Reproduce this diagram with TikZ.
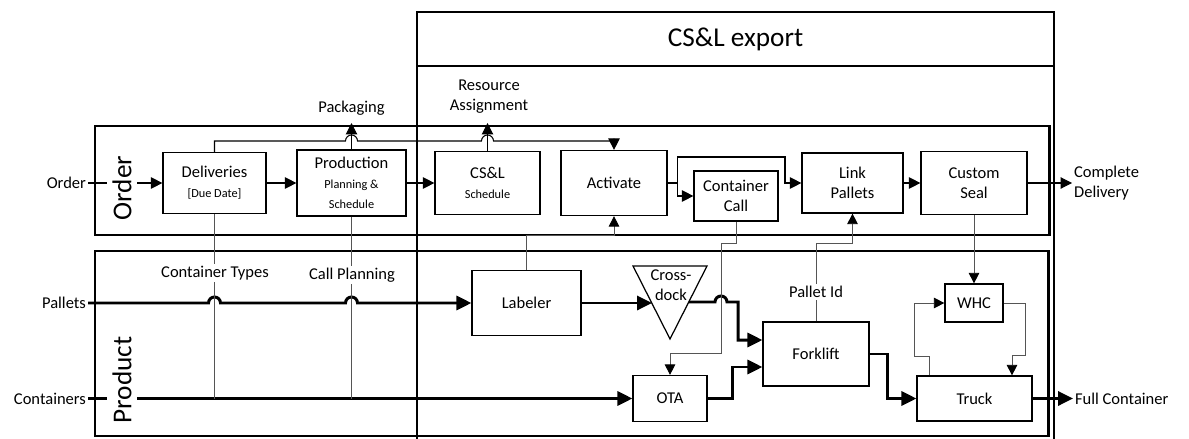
\documentclass[tikz,border=0pt]{standalone}
\usepackage{fontspec}
\setmainfont{Carlito}
\usepackage{tikz}
\usetikzlibrary{arrows.meta,calc}
\definecolor{vsgris}{RGB}{85,85,85}
\newcommand{\smalltxt}{\fontsize{7}{9}\selectfont}

\begin{document}
\begin{tikzpicture}[x=0.02cm, y=-0.02cm,
  box/.style={rectangle, draw, line width=0.7pt, align=center, inner sep=1pt,
    font=\fontsize{9.4}{11.3}\selectfont},
  lbl/.style={align=center, inner sep=1pt, font=\fontsize{9.4}{11.3}\selectfont},
  lane/.style={line width=1.7pt},
  lanelbl/.style={rotate=90, fill=white, inner sep=3pt, font=\fontsize{15.5}{18}\selectfont},
  flow/.style={line width=1.7pt, -{Triangle[length=8.5pt,width=8pt]}},
  link/.style={line width=0.6pt, -{Triangle[length=6.5pt,width=6.5pt]}},
  sig/.style={vsgris, line width=0.5pt, -{Triangle[length=6pt,width=6pt,color=black]}}
]
  \useasboundingbox (0,0) rectangle (1189,439);

  % CS&L export frame
  \draw[line width=0.8pt] (417,439) |- (1054,12) -- (1054,439);
  \draw[line width=0.8pt] (417,66) -- (1054,66);
  \node[font=\fontsize{15.5}{18}\selectfont] (export) at (735.5,39) {CS\&L export};

  % lanes
  \draw[lane] (95,126) rectangle (1049,235);
  \draw[lane] (95,251) rectangle (1048,436);

  % Order lane
  \node[box, minimum width=2.06cm, minimum height=1.22cm] (del)  at (214.5,183) {Deliveries\\{\smalltxt [Due Date]}};
  \node[box, minimum width=2.18cm, minimum height=1.32cm] (prod) at (351.5,183) {Production\\{\smalltxt Planning \&}\\{\smalltxt Schedule}};
  \node[box, minimum width=2.1cm,  minimum height=1.26cm] (csl)  at (487.5,183) {CS\&L\\{\smalltxt Schedule}};
  \node[box, minimum width=2.12cm, minimum height=1.3cm]  (act)  at (614,183)   {Activate};
  \node[box, minimum width=1.68cm, minimum height=1.0cm]  (cc)   at (736,196)   {Container\\Call};
  \node[box, minimum width=2.02cm, minimum height=1.2cm]  (lp)   at (852.5,183) {Link\\Pallets};
  \node[box, minimum width=2.12cm, minimum height=1.26cm] (cs)   at (974,183)   {Custom\\Seal};

  % Product lane
  \node[box, minimum width=2.18cm, minimum height=1.3cm]  (lab)   at (526.5,303) {Labeler};
  \draw[line width=0.7pt] (633,266) -- (707,266) -- (670,339) -- cycle;
  \node[lbl] (xd) at (671,285) {Cross-\\dock};
  \coordinate (xdin)  at (652,303);
  \coordinate (xdout) at (689,302);
  \node[box, minimum width=1.48cm, minimum height=0.92cm] (ota)   at (670,398.5) {OTA};
  \node[box, minimum width=2.12cm, minimum height=1.28cm] (fork)  at (816,354)   {Forklift};
  \node[box, minimum width=1.16cm, minimum height=0.76cm] (whc)   at (974,303)   {WHC};
  \node[box, minimum width=2.3cm,  minimum height=0.9cm]  (truck) at (974.5,398.5) {Truck};

  % outside labels
  \node[lbl, anchor=east] (order) at (88,183) {Order};
  \node[lbl, anchor=east] (pal)   at (88,303) {Pallets};
  \node[lbl, anchor=east] (cont)  at (88,398.5) {Containers};
  \node[lbl, anchor=west, align=left] (cd) at (1072,183) {Complete\\Delivery};
  \node[lbl, anchor=west] (fc)    at (1073,398.5) {Full Container};
  \node[lbl] (pack) at (351.5,108) {Packaging};
  \node[lbl] (res)  at (489,97)    {Resource\\Assignment};
  \coordinate (packtip) at (351.5,123);
  \coordinate (restip)  at (487.5,123);

  % order flow
  \draw[link] (order.east) -- (del.west);
  \draw[link] (del) -- (prod);
  \draw[link] (prod) -- (csl);
  \draw[link] (act.east) -- ++(10,0) coordinate (br) |- (cc.west);
  \draw[link] (br) |- (785,157) |- (lp.west);
  \draw[link] (lp) -- (cs);
  \draw[link] (cs.east) -- (cd.west);
  \draw[link] (prod.north) -- (packtip);
  \draw[link] (csl.north) -- (restip);
  \draw[link] (del.north) |- (345.5,141) arc[start angle=180, end angle=0, radius=0.12cm]
    -- (481.5,141) arc[start angle=180, end angle=0, radius=0.12cm] -| (act.north);

  % product flow
  \draw[flow] (pal.east) -- (208.5,303) arc[start angle=180, end angle=0, radius=0.12cm]
    -- (345.5,303) arc[start angle=180, end angle=0, radius=0.12cm] -- (lab.west);
  \draw[flow] (cont.east) -- (ota.west);
  \draw[flow] (lab.east) -- (xdin);
  \draw[flow] (xdout) -- (715,302) arc[start angle=180, end angle=0, radius=0.12cm]
    -- (738,302) |- ([yshift=0.28cm]fork.west);
  \draw[flow] (ota.east) -- (732,398.5) |- ([yshift=-0.26cm]fork.west);
  \draw[flow] (fork.east) -- (887,354) |- (truck.west);
  \draw[flow] (truck.east) -- (fc.west);

  % signals between lanes
  \draw[vsgris, line width=0.5pt] (del.south) -- (del.south |- ota.west);
  \draw[vsgris, line width=0.5pt] (prod.south) -- (prod.south |- ota.west);
  \draw[sig] (lab.north) |- (614,235) -- (act.south);
  \draw[sig] (cc.south) -- (736,243) -| (721,353) -| (ota.north);
  \draw[sig] (fork.north) |- (852.5,243) -- (lp.south);
  \draw[sig] (cs.south) -- (whc.north);
  \draw[sig] ([xshift=0.26cm]truck.north west) -- ++(0,-19) -| (914,303) -- (whc.west);
  \draw[sig] (whc.east) -| (1025,355) -| ([xshift=0.75cm]truck.north);

  % labels on top of the lines
  \node[lbl, fill=white] (ctypes) at (215,273) {Container Types};
  \node[lbl, fill=white] (cplan)  at (352,275) {Call Planning};
  \node[lbl, fill=white] (pid)    at (816,292) {Pallet Id};
  \node[lanelbl] (ordlane)  at (122,188) {Order};
  \node[lanelbl] (prodlane) at (122,380) {Product};
\end{tikzpicture}
\end{document}
